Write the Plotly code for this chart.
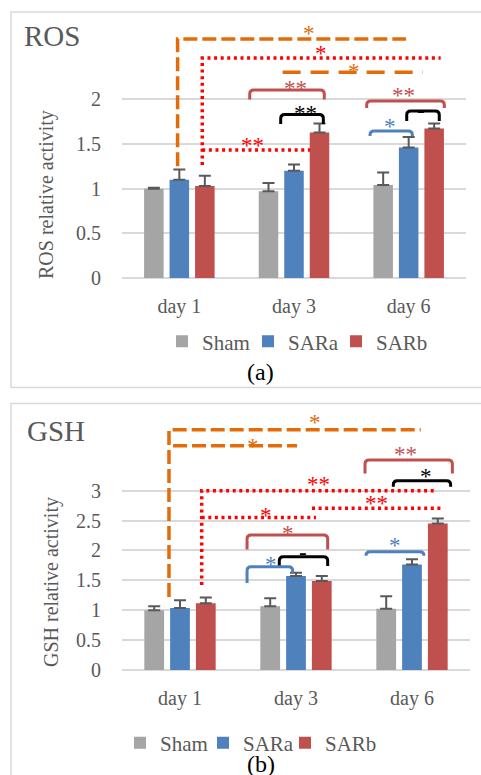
import plotly.graph_objects as go

# ---------------- data ----------------
days = ["day 1", "day 3", "day 6"]
groups = ["Sham", "SARa", "SARb"]

ros_sham = [1.00, 0.97, 1.04]
ros_sara = [1.10, 1.20, 1.46]
ros_sarb = [1.03, 1.63, 1.675]
ros_sham_err = [0.01, 0.095, 0.14]
ros_sara_err = [0.115, 0.07, 0.12]
ros_sarb_err = [0.115, 0.10, 0.055]

gsh_sham = [1.00, 1.065, 1.025]
gsh_sara = [1.037, 1.572, 1.767]
gsh_sarb = [1.115, 1.488, 2.453]
gsh_sham_err = [0.065, 0.135, 0.21]
gsh_sara_err = [0.13, 0.055, 0.085]
gsh_sarb_err = [0.10, 0.085, 0.08]

ros_ticks = [0, 0.5, 1, 1.5, 2]
gsh_ticks = [0, 0.5, 1, 1.5, 2, 2.5, 3]

# significance connectors: vertices (x in category units, y in data units), label, label position
ORANGE = "#E36C09"
RED = "#FF0000"
BRICK = "#C0504D"
BLUE = "#4F81BD"
BLACK = "#000000"

ros_links = [
    ([(-0.015, 1.25), (-0.015, 2.675), (1.977, 2.675)], ORANGE, "14px,5px", "*", 1.131, 2.776),
    ([(0.200, 1.265), (0.200, 2.463), (2.279, 2.463)], RED, "3px,3.6px", "*", 1.235, 2.552),
    ([(0.901, 2.303), (2.125, 2.303)], ORANGE, "18px,10px", "*", 1.523, 2.351),
    ([(0.200, 1.433), (1.140, 1.433)], RED, "3px,3.6px", "**", 0.642, 1.522),
]
ros_brackets = [
    (0.614, 1.264, 2.105, 2.000, 2.000, BRICK, "**", 1.009, 2.16),
    (0.884, 1.256, 1.832, 1.724, 1.724, BLACK, "**", 1.096, 1.88),
    (1.634, 2.311, 1.981, 1.903, 1.903, BRICK, "**", 1.959, 2.082),
    (1.983, 2.267, 1.869, 1.758, 1.758, BLACK, "-", 2.110, 1.914),
    (1.663, 2.032, 1.646, 1.590, 1.590, BLUE, "*", 1.837, 1.735),
]

gsh_links = [
    ([(-0.095, 1.221), (-0.095, 4.02), (2.075, 4.02)], ORANGE, "14px,5px", "*", 1.164, 4.197),
    ([(-0.060, 3.751), (1.009, 3.751)], ORANGE, "14px,5px", "*", 0.629, 3.796),
    ([(0.187, 1.421), (0.187, 3.0), (2.207, 3.0)], RED, "3px,3.6px", "**", 1.19, 3.149),
    ([(1.138, 2.704), (2.250, 2.704)], RED, "3px,3.6px", "**", 1.69, 2.843),
    ([(0.187, 2.553), (1.172, 2.553)], RED, "3px,3.6px", "*", 0.739, 2.63),
]
gsh_brackets = [
    (1.595, 2.348, 3.512, 3.289, 3.289, BRICK, "**", 1.940, 3.65),
    (1.839, 2.333, 3.166, 3.065, 3.065, BLACK, "*", 2.121, 3.294),
    (0.578, 1.273, 2.258, 2.018, 2.018, BRICK, "*", 0.931, 2.329),
    (0.856, 1.273, 1.895, 1.739, 1.739, BLACK, "-", 1.060, 2.023),
    (0.578, 0.971, 1.727, 1.455, 1.627, BLUE, "*", 0.784, 1.811),
    (1.603, 2.103, 1.978, 1.911, 1.911, BLUE, "*", 1.853, 2.129),
]

# ---------------- styling ----------------
W, H = 481, 775
FONT = "Liberation Serif, Times New Roman, serif"
GREY = "#595959"
GRID = "#D9D9D9"
COLORS = {"Sham": "#A5A5A5", "SARa": "#4F81BD", "SARb": "#C0504D"}
ROS_LEGW = {"Sham": 41, "SARa": 43, "SARb": 60}
GSH_LEGW = {"Sham": 38, "SARa": 37, "SARb": 60}

ros_range = [0, 2.9]
gsh_range = [0, 4.4]
ros_xdom = [122 / W, 466 / W]
ros_ydom = [1 - 278 / H, 1 - 19 / H]
gsh_xdom = [122 / W, 470 / W]
gsh_ydom = [1 - 670 / H, 1 - 407 / H]

fig = go.Figure()

def add_bars(vals, errs, xa, ya, leg, legw):
    for name, v, e in zip(groups, vals, errs):
        fig.add_trace(go.Bar(
            x=[0, 1, 2], y=v, name=name, xaxis=xa, yaxis=ya, legend=leg,
            legendwidth=legw[name],
            marker=dict(color=COLORS[name], line=dict(width=0)),
            error_y=dict(type="data", symmetric=False, array=e, arrayminus=[0] * len(e),
                         color=GREY, thickness=2, width=6),
        ))

add_bars([ros_sham, ros_sara, ros_sarb], [ros_sham_err, ros_sara_err, ros_sarb_err],
         "x", "y", "legend", ROS_LEGW)
add_bars([gsh_sham, gsh_sara, gsh_sarb], [gsh_sham_err, gsh_sara_err, gsh_sarb_err],
         "x2", "y2", "legend2", GSH_LEGW)

shapes = []
annotations = []

def add_sig(links, brackets, xr, yr, xdom, ydom, yrange):
    pxx = (xdom[1] - xdom[0]) * W / 3.0
    pxy = (ydom[1] - ydom[0]) * H / (yrange[1] - yrange[0])
    rx, ry = 4 / pxx, 4 / pxy
    for pts, col, dash, txt, tx, ty in links:
        path = "M " + " L ".join(f"{x},{y}" for x, y in pts)
        shapes.append(dict(type="path", path=path, xref=xr, yref=yr,
                           line=dict(color=col, width=3.5, dash=dash)))
        annotations.append(dict(x=tx, y=ty, xref=xr, yref=yr, text=txt, showarrow=False,
                                xanchor="center", yanchor="middle",
                                font=dict(family=FONT, size=23, color=col), yshift=-3))
    for x0, x1, top, lb, rb, col, txt, tx, ty in brackets:
        ryl = min(ry, top - lb)
        ryr = min(ry, top - rb)
        path = (f"M {x0},{lb} L {x0},{top - ryl} Q {x0},{top} {x0 + rx},{top} "
                f"L {x1 - rx},{top} Q {x1},{top} {x1},{top - ryr} L {x1},{rb}")
        shapes.append(dict(type="path", path=path, xref=xr, yref=yr,
                           line=dict(color=col, width=3)))
        annotations.append(dict(x=tx, y=ty, xref=xr, yref=yr, text=txt, showarrow=False,
                                xanchor="center", yanchor="middle",
                                font=dict(family=FONT, size=23, color=col), yshift=-3))

add_sig(ros_links, ros_brackets, "x", "y", ros_xdom, ros_ydom, ros_range)
add_sig(gsh_links, gsh_brackets, "x2", "y2", gsh_xdom, gsh_ydom, gsh_range)

# panel frames
shapes.append(dict(type="rect", xref="paper", yref="paper", x0=11 / W, x1=1.05,
                   y0=1 - 387.5 / H, y1=1 - 12 / H, line=dict(color=GRID, width=1.5), layer="below"))
shapes.append(dict(type="rect", xref="paper", yref="paper", x0=11 / W, x1=1.05,
                   y0=-0.05, y1=1 - 403.5 / H, line=dict(color=GRID, width=1.5), layer="below"))

# titles / captions / axis titles
annotations += [
    dict(x=22 / W, y=1 - 36 / H, xref="paper", yref="paper", text="ROS", showarrow=False,
         xanchor="left", yanchor="middle", font=dict(family=FONT, size=29, color=GREY)),
    dict(x=25 / W, y=1 - 431 / H, xref="paper", yref="paper", text="GSH", showarrow=False,
         xanchor="left", yanchor="middle", font=dict(family=FONT, size=29, color=GREY)),
    dict(x=47 / W, y=1 - 195 / H, xref="paper", yref="paper", text="ROS relative activity",
         showarrow=False, textangle=-90, xanchor="center", yanchor="middle",
         font=dict(family=FONT, size=20, color=GREY)),
    dict(x=51 / W, y=1 - 582 / H, xref="paper", yref="paper", text="GSH relative activity",
         showarrow=False, textangle=-90, xanchor="center", yanchor="middle",
         font=dict(family=FONT, size=20, color=GREY)),
    dict(x=260 / W, y=1 - 372 / H, xref="paper", yref="paper", text="(a)", showarrow=False,
         xanchor="center", yanchor="middle", font=dict(family=FONT, size=24, color="#000000")),
    dict(x=261 / W, y=1 - 764 / H, xref="paper", yref="paper", text="(b)", showarrow=False,
         xanchor="center", yanchor="middle", font=dict(family=FONT, size=24, color="#000000")),
]

xcommon = dict(range=[-0.5, 2.5], tickvals=[0, 1, 2], ticktext=days, showgrid=False,
               zeroline=False, showline=False, ticks="outside", ticklen=10, automargin=False,
               tickcolor="rgba(0,0,0,0)", tickfont=dict(family=FONT, size=20, color=GREY))
ycommon = dict(showgrid=True, gridcolor=GRID, gridwidth=1.5, zeroline=True, automargin=False,
               zerolinecolor=GRID, zerolinewidth=1.5, showline=False, ticks="outside",
               ticklen=16, tickcolor="rgba(0,0,0,0)",
               tickfont=dict(family=FONT, size=20, color=GREY))

legcommon = dict(orientation="h", xanchor="left", yanchor="middle", bgcolor="rgba(0,0,0,0)",
                 font=dict(family=FONT, size=21, color=GREY), itemwidth=30,
                 entrywidthmode="pixels")

fig.update_layout(
    width=W, height=H, margin=dict(l=0, r=0, t=0, b=0, autoexpand=False),
    paper_bgcolor="white", plot_bgcolor="white",
    barmode="group", bargap=0.333, bargroupgap=0.234,
    xaxis=dict(domain=ros_xdom, anchor="y", **xcommon),
    yaxis=dict(domain=ros_ydom, anchor="x", range=ros_range, tickvals=ros_ticks, **ycommon),
    xaxis2=dict(domain=gsh_xdom, anchor="y2", **xcommon),
    yaxis2=dict(domain=gsh_ydom, anchor="x2", range=gsh_range, tickvals=gsh_ticks, **ycommon),
    legend=dict(x=162 / W, y=1 - 341.7 / H, **legcommon),
    legend2=dict(x=120 / W, y=1 - 743 / H, **legcommon),
    shapes=shapes, annotations=annotations, showlegend=True,
)

fig.write_html("out.html", config={"displayModeBar": False},
               post_script="document.body.style.margin='0px';")
